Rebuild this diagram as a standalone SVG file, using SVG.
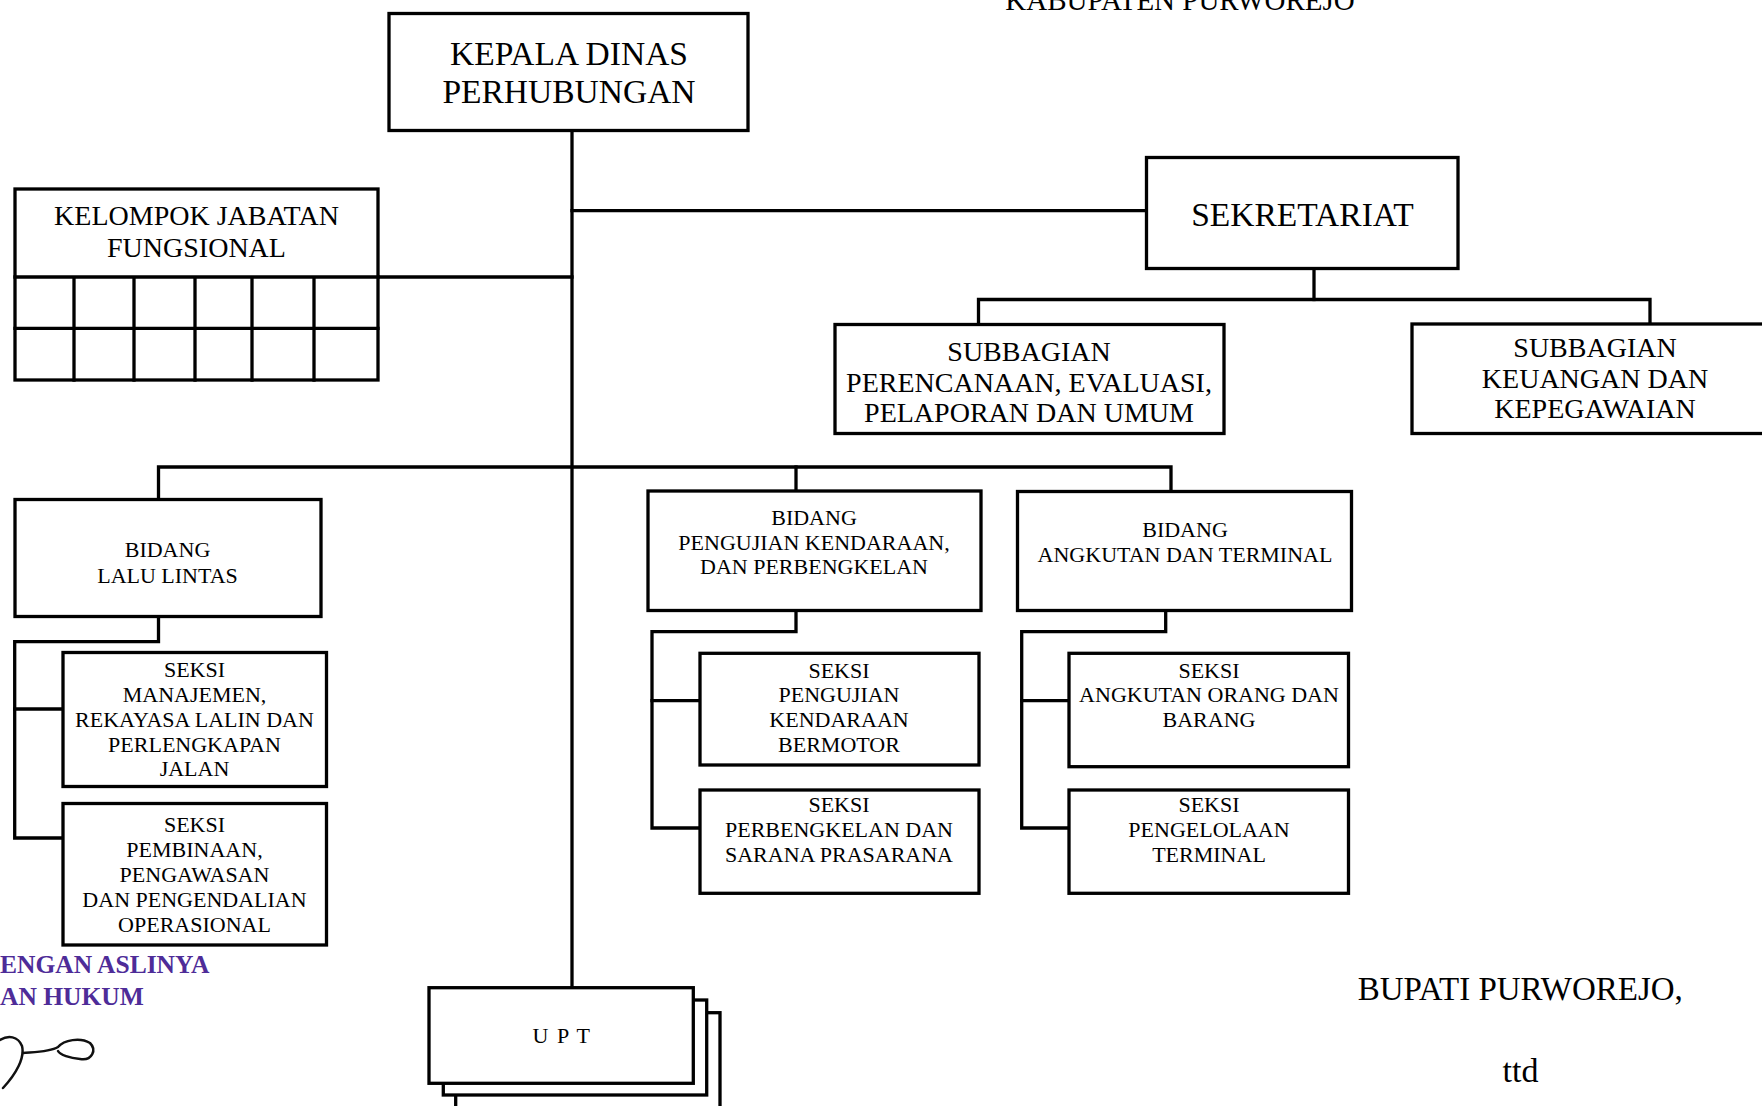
<svg xmlns="http://www.w3.org/2000/svg" width="1762" height="1106" viewBox="0 0 1762 1106">
<style>
.box{fill:#fff;stroke:#000;stroke-width:3.3}
.ln{fill:none;stroke:#000;stroke-width:3.3;stroke-linejoin:miter;stroke-linecap:square}
text{font-family:"Liberation Serif","Times New Roman",serif;fill:#000;text-anchor:middle}
.h1{font-size:33.5px}
.h2{font-size:28px}
.h3{font-size:22px}
.stamp{font-family:"Liberation Serif",serif;font-weight:bold;font-size:25.5px;fill:#4e2c98;text-anchor:start}
</style>
<rect width="1762" height="1106" fill="#fff"/>

<text x="1180" y="10" style="font-size:29px">KABUPATEN PURWOREJO</text>

<g id="connectors">
<path class="ln" d="M572 132 V987"/>
<path class="ln" d="M572 210.7 H1146.5"/>
<path class="ln" d="M378 277 H572"/>
<path class="ln" d="M1314 270 V299.5"/>
<path class="ln" d="M978.5 323 V299.5 H1650 V323"/>
<path class="ln" d="M158.5 499 V467 H1171 V491"/>
<path class="ln" d="M796 467 V491"/>
<path class="ln" d="M158.5 617 V641.7 H14.7 V838 H63"/>
<path class="ln" d="M14.7 709 H63"/>
<path class="ln" d="M796 611 V631.7 H652 V828 H700"/>
<path class="ln" d="M652 700.7 H700"/>
<path class="ln" d="M1165.7 611 V631.7 H1021.7 V828 H1069"/>
<path class="ln" d="M1021.7 700.7 H1069"/>
</g>

<g id="kepala">
<rect class="box" x="389" y="13.5" width="359" height="117"/>
<text class="h1" x="569" y="65">KEPALA DINAS</text>
<text class="h1" x="569" y="103">PERHUBUNGAN</text>
</g>

<g id="kelompok">
<rect class="box" x="15" y="189" width="363" height="191"/>
<path class="ln" d="M15 277 H378 M15 328.3 H378 M74 277 V380 M134 277 V380 M195 277 V380 M252 277 V380 M314 277 V380"/>
<text class="h2" x="196.5" y="225">KELOMPOK JABATAN</text>
<text class="h2" x="196.5" y="257">FUNGSIONAL</text>
</g>

<g id="sekretariat">
<rect class="box" x="1146.5" y="157.5" width="311.5" height="111"/>
<text class="h1" x="1302.5" y="226">SEKRETARIAT</text>
</g>

<g id="sub-perencanaan">
<rect class="box" x="835" y="324.5" width="389" height="109"/>
<text class="h2" x="1029" y="361">SUBBAGIAN</text>
<text class="h2" x="1029" y="392">PERENCANAAN, EVALUASI,</text>
<text class="h2" x="1029" y="422">PELAPORAN DAN UMUM</text>
</g>

<g id="sub-keuangan">
<rect class="box" x="1412" y="324" width="400" height="109.5"/>
<text class="h2" x="1595" y="357">SUBBAGIAN</text>
<text class="h2" x="1595" y="388">KEUANGAN DAN</text>
<text class="h2" x="1595" y="418">KEPEGAWAIAN</text>
</g>

<g id="bidang-lalu-lintas">
<rect class="box" x="15" y="499.5" width="306" height="117"/>
<text class="h3" x="167.5" y="556.7">BIDANG</text>
<text class="h3" x="167.5" y="582.7">LALU LINTAS</text>
</g>

<g id="seksi-manajemen">
<rect class="box" x="63" y="652.5" width="263.5" height="134"/>
<text class="h3" x="194.5" y="676.7">SEKSI</text>
<text class="h3" x="194.5" y="701.7">MANAJEMEN,</text>
<text class="h3" x="194.5" y="726.7">REKAYASA LALIN DAN</text>
<text class="h3" x="194.5" y="751.7">PERLENGKAPAN</text>
<text class="h3" x="194.5" y="776">JALAN</text>
</g>

<g id="seksi-pembinaan">
<rect class="box" x="63" y="803.5" width="263.5" height="141.5"/>
<text class="h3" x="194.5" y="831.7">SEKSI</text>
<text class="h3" x="194.5" y="856.7">PEMBINAAN,</text>
<text class="h3" x="194.5" y="881.7">PENGAWASAN</text>
<text class="h3" x="194.5" y="906.7">DAN PENGENDALIAN</text>
<text class="h3" x="194.5" y="931.7">OPERASIONAL</text>
</g>

<g id="bidang-pengujian">
<rect class="box" x="648" y="491" width="333" height="119.5"/>
<text class="h3" x="814" y="525">BIDANG</text>
<text class="h3" x="814" y="550">PENGUJIAN KENDARAAN,</text>
<text class="h3" x="814" y="574.3">DAN PERBENGKELAN</text>
</g>

<g id="seksi-pengujian">
<rect class="box" x="700" y="653.3" width="279" height="111.7"/>
<text class="h3" x="839" y="677.7">SEKSI</text>
<text class="h3" x="839" y="702.3">PENGUJIAN</text>
<text class="h3" x="839" y="727.3">KENDARAAN</text>
<text class="h3" x="839" y="751.7">BERMOTOR</text>
</g>

<g id="seksi-perbengkelan">
<rect class="box" x="700" y="790" width="279" height="103.3"/>
<text class="h3" x="839" y="811.7">SEKSI</text>
<text class="h3" x="839" y="836.7">PERBENGKELAN DAN</text>
<text class="h3" x="839" y="862.3">SARANA PRASARANA</text>
</g>

<g id="bidang-angkutan">
<rect class="box" x="1017.5" y="491.5" width="334" height="119"/>
<text class="h3" x="1185" y="537.3">BIDANG</text>
<text class="h3" x="1185" y="562.3">ANGKUTAN DAN TERMINAL</text>
</g>

<g id="seksi-angkutan-orang">
<rect class="box" x="1069" y="653.3" width="279.5" height="113.4"/>
<text class="h3" x="1209" y="677.7">SEKSI</text>
<text class="h3" x="1209" y="702.3">ANGKUTAN ORANG DAN</text>
<text class="h3" x="1209" y="727.3">BARANG</text>
</g>

<g id="seksi-pengelolaan">
<rect class="box" x="1069" y="790" width="279.5" height="103.3"/>
<text class="h3" x="1209" y="812.3">SEKSI</text>
<text class="h3" x="1209" y="837.3">PENGELOLAAN</text>
<text class="h3" x="1209" y="862.3">TERMINAL</text>
</g>

<g id="upt">
<rect class="box" x="455.7" y="1012.7" width="264.3" height="100"/>
<rect class="box" x="443.3" y="1000" width="263.4" height="95"/>
<rect class="box" x="429" y="987.7" width="264.3" height="95.6"/>
<text class="h3" x="562" y="1042.7" style="letter-spacing:1.5px">U P T</text>
</g>

<g id="stamp">
<text class="stamp" x="0" y="973">ENGAN ASLINYA</text>
<text class="stamp" x="0" y="1005">AN HUKUM</text>
<path d="M0 1040 C8 1035 18 1036 22 1046 C25 1058 16 1074 3 1088" fill="none" stroke="#111" stroke-width="2.5" stroke-linecap="round"/>
<path d="M23 1053 C35 1052 50 1052 58 1047 C64 1040 80 1037 90 1043 C97 1050 92 1061 80 1059 C70 1058 60 1055 58 1051" fill="none" stroke="#111" stroke-width="2.5" stroke-linecap="round"/>
</g>

<g id="signature-text">
<text x="1357.7" y="1000" style="font-size:33px;text-anchor:start">BUPATI PURWOREJO,</text>
<text x="1520.5" y="1081.7" style="font-size:34px">ttd</text>
</g>
</svg>
